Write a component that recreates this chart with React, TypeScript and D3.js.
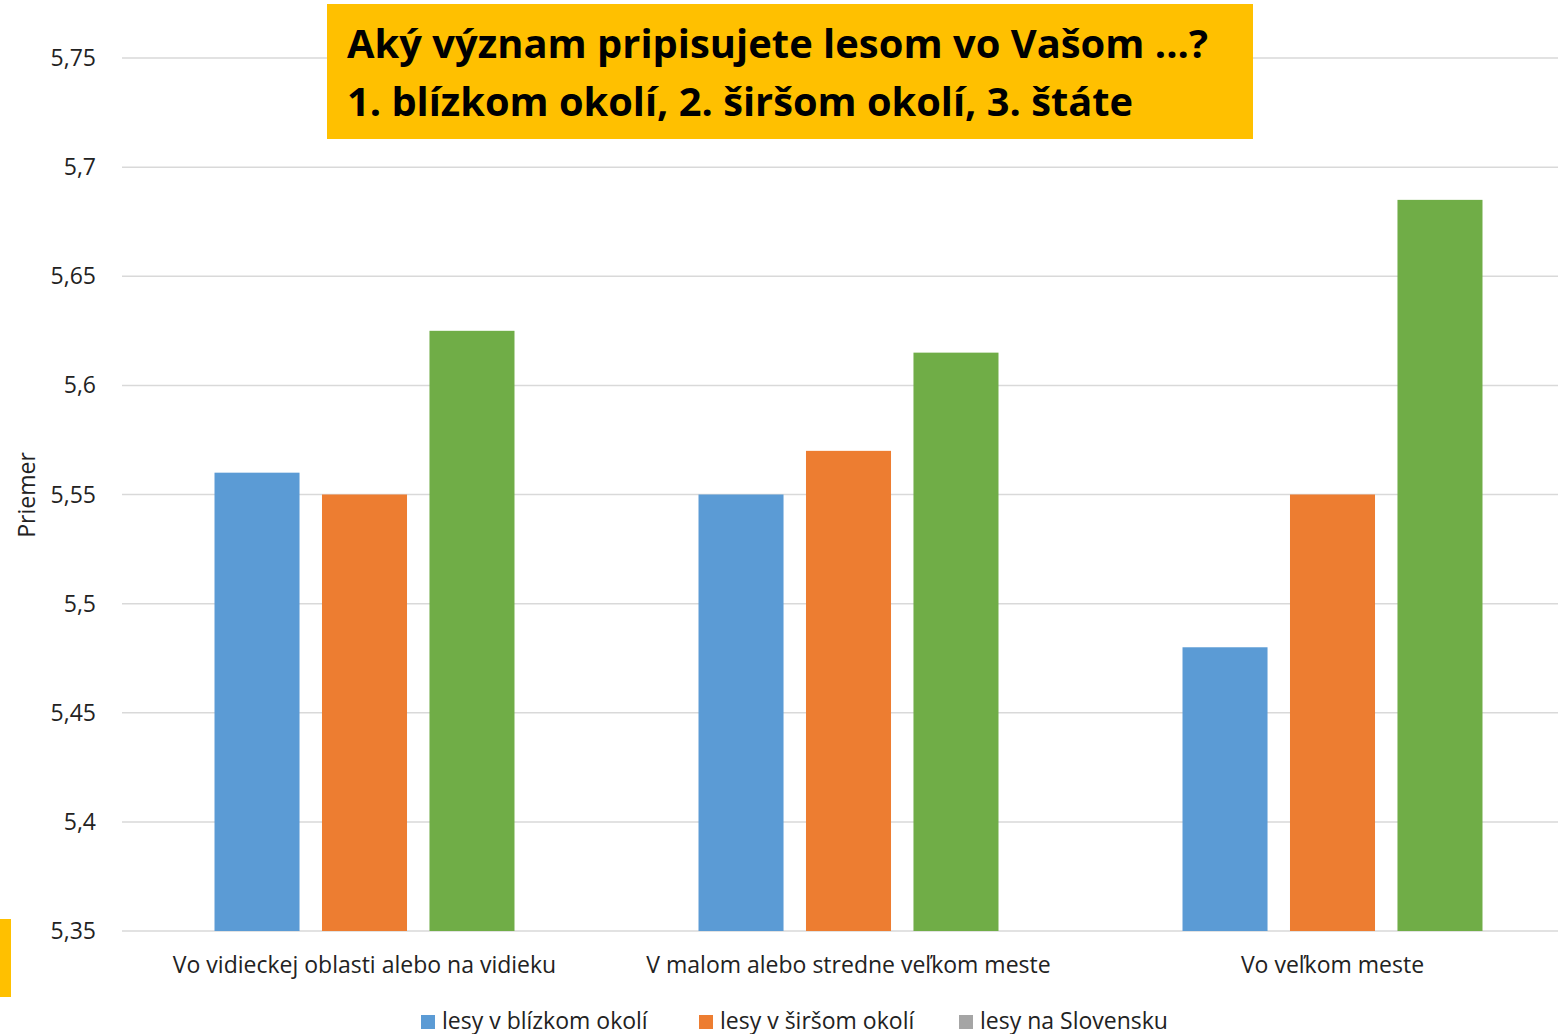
import React from 'react'
import * as d3 from 'd3'

const categories = [
    'Vo vidieckej oblasti alebo na vidieku',
    'V malom alebo stredne veľkom meste',
    'Vo veľkom meste',
]
const seriesNames = ['lesy v blízkom okolí', 'lesy v širšom okolí', 'lesy na Slovensku']
const seriesColors = ['#5B9BD5', '#ED7D31', '#70AD47']
const legendColors = ['#5B9BD5', '#ED7D31', '#A5A5A5']
const nearValues = [5.56, 5.55, 5.48]
const widerValues = [5.55, 5.57, 5.55]
const stateValues = [5.625, 5.615, 5.685]
const yTicks = [5.35, 5.4, 5.45, 5.5, 5.55, 5.6, 5.65, 5.7, 5.75]
const titleLines = ['Aký význam pripisujete lesom vo Vašom ...?', '1. blízkom okolí, 2. širšom okolí, 3. štáte']

const W = 1558
const H = 1034
const FONT = "'Open Sans', 'Noto Sans', sans-serif"

const fmt = (v: number) => String(+v.toFixed(2)).replace('.', ',')

const App = () => {
    const values = [nearValues, widerValues, stateValues]

    const x0 = d3.scaleBand<string>().domain(categories).range([122.5, 1574.5]).padding(0)
    const x1 = d3
        .scaleBand<number>()
        .domain(d3.range(seriesNames.length))
        .range([0, x0.bandwidth()])
        .paddingInner(0.209)
        .paddingOuter(0.856)
    const y = d3.scaleLinear().domain([5.35, 5.75]).range([931, 58])

    const legendX = [421, 699, 959]

    return (
        <svg width={W} height={H} style={{ position: 'absolute', left: 0, top: 0, background: '#fff' }}>
            {/* gridlines + y ticks */}
            <g className='axis y'>
                {yTicks.map(t => (
                    <g key={t}>
                        <line x1={122} x2={W} y1={y(t)} y2={y(t)} stroke='#D9D9D9' strokeWidth={1.5} />
                        <text x={96} y={y(t) + 8} textAnchor='end' fontFamily={FONT} fontSize={23} fill='#222'>
                            {fmt(t)}
                        </text>
                    </g>
                ))}
            </g>
            <text
                transform={`translate(35, ${495}) rotate(-90)`}
                textAnchor='middle'
                fontFamily={FONT}
                fontSize={23}
                fill='#222'
            >
                Priemer
            </text>

            {/* bars */}
            {categories.map((c, ci) => (
                <g key={c} transform={`translate(${x0(c)}, 0)`}>
                    {values.map((s, si) => (
                        <rect
                            key={si}
                            x={x1(si)}
                            y={y(s[ci])}
                            width={x1.bandwidth()}
                            height={y(5.35) - y(s[ci])}
                            fill={seriesColors[si]}
                        />
                    ))}
                    <text
                        x={x0.bandwidth() / 2}
                        y={973}
                        textAnchor='middle'
                        fontFamily={FONT}
                        fontSize={23}
                        fill='#222'
                    >
                        {c}
                    </text>
                </g>
            ))}

            {/* legend */}
            {seriesNames.map((n, i) => (
                <g key={n} transform={`translate(${legendX[i]}, 1015)`}>
                    <rect width={14} height={14} fill={legendColors[i]} />
                    <text x={21} y={14} fontFamily={FONT} fontSize={23} fill='#222'>
                        {n}
                    </text>
                </g>
            ))}

            {/* title box */}
            <rect x={327} y={4} width={926} height={135} fill='#FFC000' />
            {titleLines.map((t, i) => (
                <text
                    key={i}
                    x={347}
                    y={58 + i * 58}
                    fontFamily={FONT}
                    fontWeight='bold'
                    fontSize={40}
                    fill='#000'
                    textLength={i === 0 ? 861 : 786}
                    lengthAdjust='spacingAndGlyphs'
                >
                    {t}
                </text>
            ))}

            {/* yellow mark bottom left */}
            <rect x={0} y={919} width={11} height={78} fill='#FFC000' />
        </svg>
    )
}

export default App
